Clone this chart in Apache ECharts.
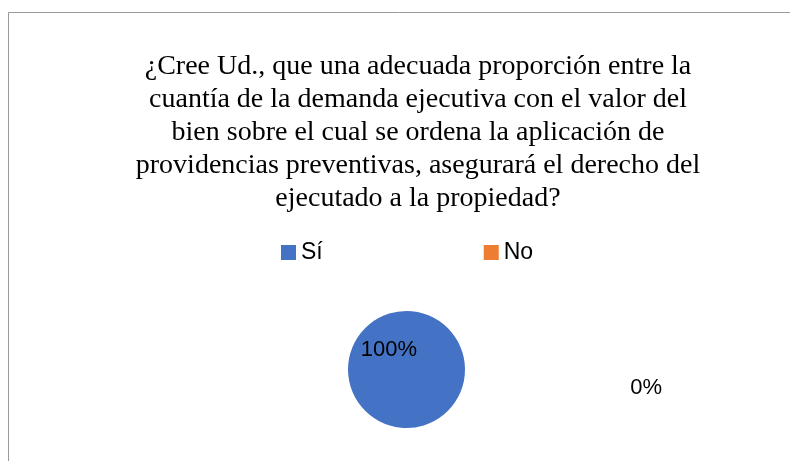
<!DOCTYPE html>
<html>
<head>
<meta charset="utf-8">
<script src="https://cdn.jsdelivr.net/npm/echarts@6/dist/echarts.min.js"></script>
<style>
html,body{margin:0;padding:0;background:#fff;}
#chart{width:790px;height:461px;}
</style>
</head>
<body>
<div id="chart"></div>
<script>
const titleText = '¿Cree Ud., que una adecuada proporción entre la\ncuantía de la demanda ejecutiva con el valor del\nbien sobre el cual se ordena la aplicación de\nprovidencias preventivas, asegurará el derecho del\nejecutado a la propiedad?';
const categories = ['Sí', 'No'];
const values = [100, 0];
const colors = ['#4472C4', '#ED7D31'];

const chart = echarts.init(document.getElementById('chart'), null, {renderer: 'canvas'});

const labelOffsets = [[3, 5], [219, -6]];
const pieData = categories.map((c, i) => ({
  name: c,
  value: values[i],
  itemStyle: { color: colors[i] },
  label: { position: 'inside', offset: labelOffsets[i] }
}));

chart.setOption({
  animation: false,
  backgroundColor: '#ffffff',
  graphic: [{
    type: 'rect',
    shape: { x: 8.5, y: 12.5, width: 1200, height: 1200 },
    style: { fill: 'none', stroke: '#9a9a9a', lineWidth: 1 },
    silent: true,
    z: -1
  }],
  title: {
    text: titleText,
    left: 418,
    top: 50,
    textAlign: 'center',
    padding: 0,
    textStyle: {
      fontFamily: '"Liberation Serif", "Times New Roman", serif',
      fontSize: 28,
      fontWeight: 'normal',
      color: '#000000',
      lineHeight: 33
    }
  },
  legend: {
    data: categories,
    left: 281,
    top: 241,
    padding: 0,
    itemGap: 161,
    itemWidth: 15,
    itemHeight: 15,
    icon: 'rect',
    textStyle: {
      fontFamily: '"Liberation Sans", Arial, sans-serif',
      fontSize: 23,
      color: '#000000'
    }
  },
  series: [{
    type: 'pie',
    center: [406.5, 369.5],
    radius: [0, 58.5],
    startAngle: 309.7,
    clockwise: true,
    avoidLabelOverlap: false,
    label: {
      show: true,
      position: 'inside',
      formatter: '{d}%',
      fontFamily: '"Liberation Sans", Arial, sans-serif',
      fontSize: 22,
      color: '#000000'
    },
    labelLine: { show: false },
    emphasis: { disabled: true },
    itemStyle: { borderWidth: 0 },
    data: pieData
  }]
});
</script>
</body>
</html>
